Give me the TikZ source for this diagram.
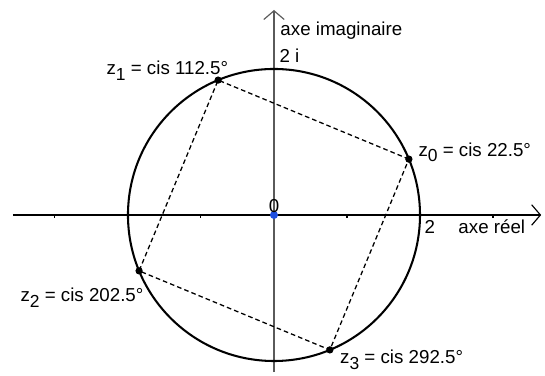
\documentclass[tikz,border=0pt]{standalone}
\usepackage{fontspec}
\setmainfont{Liberation Sans}
\usepackage{tikz}
\usetikzlibrary{arrows.meta,positioning,calc}
\definecolor{axisgray}{HTML}{5A5A5A}
\definecolor{origblue}{HTML}{1E4FE0}
\newcommand{\zlab}[1]{z\raisebox{-0.32em}{\fontsize{6.8}{7}\selectfont #1}}

\begin{document}
\begin{tikzpicture}[
  lab/.style={font=\fontsize{7.3}{8.5}\selectfont,inner sep=0pt,anchor=base west},
  dot/.style={circle,fill=black,inner sep=0pt,minimum size=1.0mm},
  ax/.style={line width=0.45pt,-{Straight Barb[length=1.2mm,width=2.8mm]}},
  side/.style={dashed,dash pattern=on 1.8pt off 1.2pt,line width=0.5pt}]
\useasboundingbox (-3.753,-2.205) rectangle (3.712,2.945);
% axes
\coordinate (xl) at (-3.575,0);
\coordinate (xr) at (3.66,0);
\coordinate (yb) at (0,-2.151);
\coordinate (yt) at (0,2.808);
\draw[ax] (xl) -- (xr);
\draw[ax,axisgray] (yb) -- (yt);
\foreach \k in {-3,-2,-1,1,2,3}
  \draw[line width=0.4pt] (\k,0) -- (\k,-0.04);
% circle of radius 2
\draw[line width=0.8pt] (0,0) circle (2);
% the four roots
\node[dot] (z0) at (22.5:2) {};
\node[dot] (z1) at (112.5:2) {};
\node[dot] (z2) at (202.5:2) {};
\node[dot] (z3) at (292.5:2) {};
\draw[side] (z0.center) -- (z1.center) -- (z2.center) -- (z3.center) -- cycle;
\node[dot,fill=origblue,minimum size=1.1mm] (o) at (0,0) {};
% labels
\node[lab,anchor=base] (o0) at (0,0.04) {0};
\node[lab] (re2) at (2.055,-0.26) {2};
\node[lab] (relab) at (2.52,-0.26) {axe réel};
\node[lab] (im2) at (0.07,2.082) {2 i};
\node[lab] (imlab) at (0.082,2.452) {axe imaginaire};
\node[lab] (l0) at (1.973,0.808) {\zlab{0} = cis 22.5°};
\node[lab] (l1) at (-2.30,1.93) {\zlab{1} = cis 112.5°};
\node[lab] (l2) at (-3.479,-1.188) {\zlab{2} = cis 202.5°};
\node[lab] (l3) at (0.90,-2.03) {\zlab{3} = cis 292.5°};
\end{tikzpicture}
\end{document}
